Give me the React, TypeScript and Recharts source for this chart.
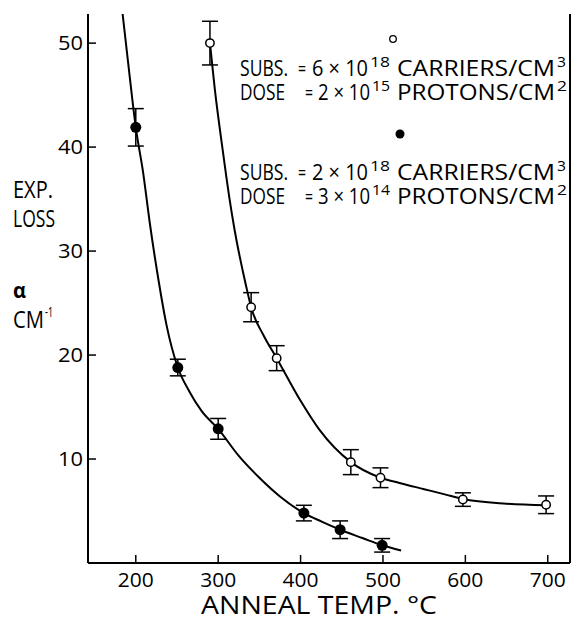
import { ComposedChart, Line, Scatter, XAxis, YAxis, ErrorBar } from 'recharts';

// solid points: 2e18 carriers, 3e14 protons
const filledTemps = [200, 251, 300, 404, 448, 499];
const filledLoss = [41.9, 18.8, 12.9, 4.8, 3.2, 1.7];
const filledErr = [1.8, 0.8, 1.0, 0.75, 0.85, 0.65];

// open points: 6e18 carriers, 2e15 protons
const openTemps = [290, 340, 371, 461, 497, 597, 698];
const openLoss = [50.0, 24.6, 19.7, 9.7, 8.2, 6.1, 5.6];
const openErr = [2.1, 1.4, 1.2, 1.2, 0.95, 0.65, 0.85];

// hand-drawn fit curves
const filledCurveTemps = [184, 192, 200, 209, 217, 228, 237, 251, 265, 280, 300, 325, 350, 375, 404, 425, 448, 475, 499, 522];
const filledCurveLoss = [52.8, 47.2, 41.9, 37.5, 32.7, 27.0, 23.0, 18.8, 16.5, 14.6, 12.9, 10.3, 8.2, 6.4, 4.8, 4.0, 3.2, 2.4, 1.7, 1.2];

const openCurveTemps = [290, 296, 305, 314, 320, 334, 340, 355, 371, 400, 423, 461, 497, 520, 550, 575, 597, 650, 698];
const openCurveLoss = [50.0, 45.5, 40.0, 34.9, 32.0, 26.6, 24.6, 21.9, 19.7, 15.6, 12.8, 9.7, 8.2, 7.7, 7.1, 6.6, 6.15, 5.7, 5.55];

const xTicks = [200, 300, 400, 500, 600, 700];
const yTicks = [10, 20, 30, 40, 50];

const FONT = '"Open Sans", sans-serif';

const filledPoints = filledTemps.map((t, i) => ({ t, a: filledLoss[i], e: filledErr[i] }));
const openPoints = openTemps.map((t, i) => ({ t, a: openLoss[i], e: openErr[i] }));
const filledCurve = filledCurveTemps.map((t, i) => ({ t, a: filledCurveLoss[i] }));
const openCurve = openCurveTemps.map((t, i) => ({ t, a: openCurveLoss[i] }));

const BottomTick = ({ x, y, payload }: any) => (
  <g>
    <line x1={x} y1={y} x2={x} y2={y - 8} stroke="#000" strokeWidth={1.5} />
    <text
      x={x}
      y={y + 24}
      textAnchor="middle"
      fontFamily={FONT}
      fontSize={20}
      textLength={String(payload.value).length * 12}
      lengthAdjust="spacingAndGlyphs"
      fill="#000"
    >
      {payload.value}
    </text>
  </g>
);

const LeftTick = ({ x, y, payload }: any) => (
  <g>
    <line x1={x} y1={y} x2={x + 8} y2={y} stroke="#000" strokeWidth={1.5} />
    <text
      x={x - 5}
      y={y + 7}
      textAnchor="end"
      fontFamily={FONT}
      fontSize={20}
      textLength={String(payload.value).length * 12.5}
      lengthAdjust="spacingAndGlyphs"
      fill="#000"
    >
      {payload.value}
    </text>
  </g>
);

const RightTick = ({ x, y }: any) => (
  <line x1={x} y1={y} x2={x - 8} y2={y} stroke="#000" strokeWidth={1.5} />
);

const OpenDot = ({ cx, cy }: any) => (
  <circle cx={cx} cy={cy} r={4.2} fill="#fff" stroke="#000" strokeWidth={1.5} />
);

const FilledDot = ({ cx, cy }: any) => <circle cx={cx} cy={cy} r={5.5} fill="#000" />;

// one stretched piece of lettering
const Seg = ({ x, y, w, size = 21, children, bold }: any) => (
  <text
    x={x}
    y={y}
    fontSize={size}
    fontWeight={bold ? 'bold' : 'normal'}
    textLength={w}
    lengthAdjust="spacingAndGlyphs"
  >
    {children}
  </text>
);

const LegendLines = ({ y, subs, subsExp, dose, doseExp }: any) => (
  <g>
    <Seg x={240} y={y} w={48}>SUBS.</Seg>
    <Seg x={298} y={y} w={8}>=</Seg>
    <Seg x={312} y={y} w={56}>{subs} × 10</Seg>
    <Seg x={370} y={y - 9} w={20} size={14}>{subsExp}</Seg>
    <Seg x={397} y={y} w={158}>CARRIERS/CM</Seg>
    <Seg x={557} y={y - 9} w={9} size={14}>3</Seg>
    <Seg x={240} y={y + 24} w={45}>DOSE</Seg>
    <Seg x={305} y={y + 24} w={8}>=</Seg>
    <Seg x={318} y={y + 24} w={52}>{dose} × 10</Seg>
    <Seg x={372} y={y + 15} w={18} size={14}>{doseExp}</Seg>
    <Seg x={397} y={y + 24} w={158}>PROTONS/CM</Seg>
    <Seg x={557} y={y + 15} w={10} size={14}>2</Seg>
  </g>
);

export default function App() {
  return (
    <div style={{ position: 'relative', width: 573, height: 620, background: '#fff' }}>
      <style>{'body{margin:0}'}</style>
      <ComposedChart
        width={573}
        height={620}
        margin={{ top: 14, right: 0, left: 0, bottom: 0 }}
      >
        <XAxis
          xAxisId="b"
          type="number"
          dataKey="t"
          domain={[142, 727]}
          ticks={xTicks}
          height={57}
          tickSize={0}
          tickMargin={0}
          tickLine={false}
          tick={<BottomTick />}
          axisLine={{ stroke: '#000', strokeWidth: 2 }}
          allowDataOverflow
        />
        <XAxis
          xAxisId="top"
          orientation="top"
          type="number"
          domain={[142, 727]}
          height={0}
          tick={false}
          tickLine={false}
          axisLine={{ stroke: '#000', strokeWidth: 2 }}
        />
        <YAxis
          yAxisId="l"
          type="number"
          dataKey="a"
          domain={[0, 52.8]}
          ticks={yTicks}
          width={88}
          tickSize={0}
          tickMargin={0}
          tickLine={false}
          tick={<LeftTick />}
          axisLine={{ stroke: '#000', strokeWidth: 2 }}
          allowDataOverflow
        />
        <YAxis
          yAxisId="r"
          orientation="right"
          type="number"
          domain={[0, 52.8]}
          ticks={yTicks}
          width={3}
          tickSize={0}
          tickMargin={0}
          tickLine={false}
          tick={<RightTick />}
          axisLine={{ stroke: '#000', strokeWidth: 2 }}
        />
        <Line
          xAxisId="b"
          yAxisId="l"
          data={filledCurve}
          dataKey="a"
          type="monotone"
          stroke="#000"
          strokeWidth={2}
          dot={false}
          isAnimationActive={false}
        />
        <Line
          xAxisId="b"
          yAxisId="l"
          data={openCurve}
          dataKey="a"
          type="monotone"
          stroke="#000"
          strokeWidth={2}
          dot={false}
          isAnimationActive={false}
        />
        <Scatter
          xAxisId="b"
          yAxisId="l"
          data={filledPoints}
          dataKey="a"
          shape={<FilledDot />}
          isAnimationActive={false}
        >
          <ErrorBar dataKey="e" direction="y" width={8} stroke="#000" strokeWidth={1.5} />
        </Scatter>
        <Scatter
          xAxisId="b"
          yAxisId="l"
          data={openPoints}
          dataKey="a"
          shape={<OpenDot />}
          isAnimationActive={false}
        >
          <ErrorBar dataKey="e" direction="y" width={8} stroke="#000" strokeWidth={1.5} />
        </Scatter>
      </ComposedChart>

      <svg
        width={573}
        height={620}
        style={{ position: 'absolute', left: 0, top: 0, pointerEvents: 'none' }}
        fontFamily={FONT}
        fill="#000"
      >
        {/* legend */}
        <circle cx={393} cy={39} r={3.3} fill="#fff" stroke="#000" strokeWidth={1.3} />
        <LegendLines y={76} subs="6" subsExp="18" dose="2" doseExp="15" />
        <circle cx={400} cy={134} r={4.5} fill="#000" />
        <LegendLines y={180} subs="2" subsExp="18" dose="3" doseExp="14" />

        {/* y axis title */}
        <Seg x={13} y={198} w={40} size={24}>EXP.</Seg>
        <Seg x={13} y={227} w={42} size={24}>LOSS</Seg>
        <Seg x={13} y={298} w={13} size={22} bold>α</Seg>
        <Seg x={13} y={328} w={31} size={24}>CM</Seg>
        <Seg x={45} y={317} w={8} size={14}>-1</Seg>

        {/* x axis title */}
        <Seg x={201} y={614} w={236} size={25}>ANNEAL TEMP. °C</Seg>
      </svg>
    </div>
  );
}
